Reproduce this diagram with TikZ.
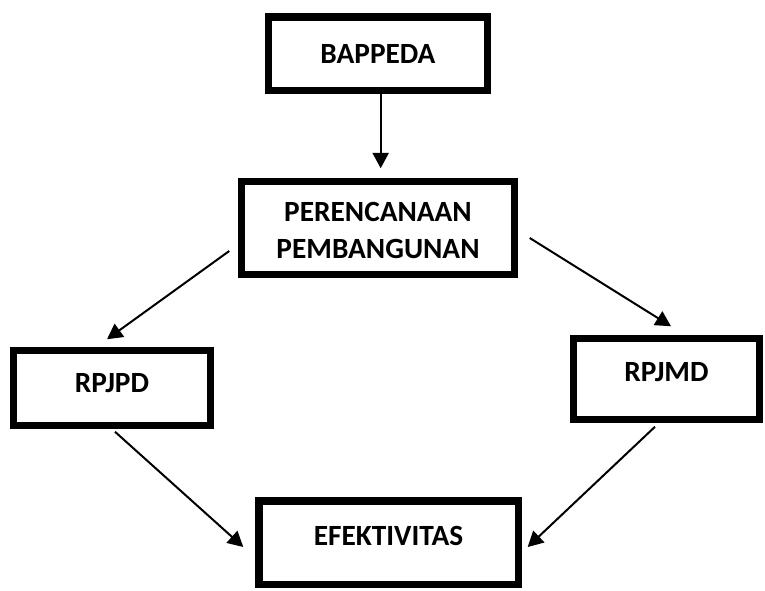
\documentclass[tikz,border=0pt]{standalone}
\usepackage{fontspec}
\setmainfont{Carlito}
\usepackage{tikz}
\usetikzlibrary{arrows.meta,calc}

\begin{document}
\begin{tikzpicture}[
  x=0.75pt, y=-0.75pt,
  font=\fontsize{22}{28}\selectfont\bfseries,
  box/.style={draw, line width=5.6pt, inner sep=0pt, align=center, fill=white},
  arr/.style={-{Triangle[length=11.5pt, width=12pt]}, line width=1.5pt}
]
\useasboundingbox (0,0) rectangle (765,590);

% --- boxes
\node[box, minimum width=163.9pt, minimum height=55.1pt] (bappeda) at (378,53.5) {BAPPEDA};
\node[box, minimum width=204.4pt, minimum height=69.4pt, text height=46pt] (renbang) at (378,228)
  {PERENCANAAN\\PEMBANGUNAN};
\node[box, minimum width=147.4pt, minimum height=55.9pt, text depth=7.5pt] (rpjpd) at (112,388) {RPJPD};
\node[box, minimum width=139.5pt, minimum height=60.4pt, text depth=10.5pt] (rpjmd) at (666.5,379) {RPJMD};
\node[box, minimum width=194.6pt, minimum height=62.6pt, text depth=10.5pt] (efek) at (388.5,542.5) {EFEKTIVITAS};

% --- arrows
\draw[arr, shorten >=7.3pt] ([xshift=2pt]bappeda.south) -- ([xshift=2pt]renbang.north);
\draw[arr] ($(renbang.west)+(-8.75,23)$) -- ($(rpjpd.north)+(-5,-7.75)$);
\draw[arr] ($(renbang.east)+(11.75,10)$) -- ($(rpjmd.north)+(4.5,-8.75)$);
\draw[arr] ($(rpjpd.south)+(3,2.75)$) -- ($(efek.west)+(-11.75,4.5)$);
\draw[arr] ($(rpjmd.south)+(-11.5,3.75)$) -- ($(efek.east)+(5.75,4.5)$);
\end{tikzpicture}
\end{document}
